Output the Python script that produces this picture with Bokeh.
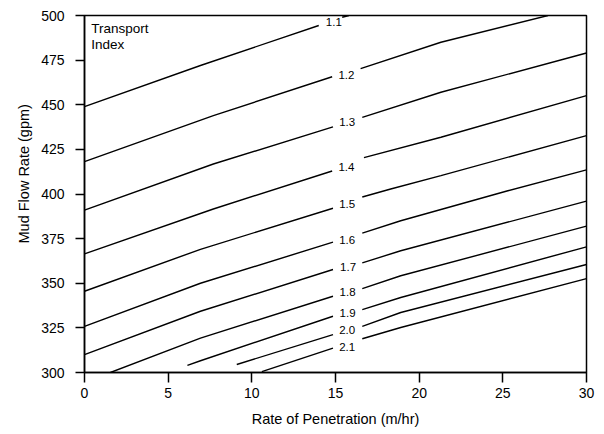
import math
from bokeh.plotting import figure
from bokeh.models import Range1d, Label, ColumnDataSource, FixedTicker, Title
from bokeh.core.properties import value
from bokeh.embed import file_html
from bokeh.resources import INLINE

# ---- data ----
levels = ["1.1", "1.2", "1.3", "1.4", "1.5", "1.6", "1.7", "1.8", "1.9", "2.0", "2.1"]

# segment of each contour left of its label (rate of penetration, m/hr)
left_x = [
    [0, 6.93, 14.0],
    [0, 7.7, 14.8],
    [0, 7.7, 14.85],
    [0, 7.7, 14.8],
    [0, 6.93, 14.85],
    [0, 6.93, 14.85],
    [0, 6.93, 14.85],
    [1.55, 6.93, 14.85],
    [6.15, 6.93, 14.85],
    [9.1, 14.85],
    [10.6, 14.85],
]
# mud flow rate (gpm)
left_y = [
    [449, 472, 494.4],
    [418.1, 443.9, 465.7],
    [391, 416.8, 437.6],
    [366.5, 391.6, 412.9],
    [345.5, 369, 392],
    [325.8, 350, 373],
    [310, 334.3, 357.7],
    [300, 319.3, 342.7],
    [304, 306.6, 331.5],
    [304.5, 321.2],
    [300.5, 313.7],
]
# segment of each contour right of its label
right_x = [
    [15.4, 15.8],
    [16.5, 21.3, 27.7],
    [16.6, 21.3, 30],
    [16.7, 21.3, 30],
    [16.6, 18.3, 21.3, 30],
    [16.6, 18.9, 25.3, 30],
    [16.6, 18.9, 30],
    [16.6, 18.9, 30],
    [16.6, 18.9, 30],
    [16.6, 18.9, 30],
    [16.6, 18.9, 30],
]
right_y = [
    [499, 500],
    [470.2, 485, 500],
    [442.9, 457, 479],
    [420.4, 431.8, 455.1],
    [398.3, 402.8, 410.3, 432.7],
    [378.1, 385, 401.8, 413.5],
    [361.4, 368.2, 396],
    [347, 354.2, 382],
    [335.2, 342, 370.4],
    [325.8, 333.6, 360.5],
    [318.9, 325.2, 352.6],
]
# contour label positions
label_x = [14.9, 15.65, 15.7, 15.65, 15.7, 15.7, 15.75, 15.72, 15.72, 15.7, 15.7]
label_y = [496.1, 466.9, 440.6, 415.3, 394.2, 374.2, 359.1, 345, 333.1, 323.6, 314.3]

x_ticks = [0, 5, 10, 15, 20, 25, 30]
y_ticks = [300, 325, 350, 375, 400, 425, 450, 475, 500]

FONT = "Liberation Sans"

p = figure(width=604, height=434, output_backend="svg", toolbar_location=None,
           x_range=Range1d(0, 30), y_range=Range1d(300, 500),
           min_border_left=84, min_border_right=18, min_border_top=15, min_border_bottom=62)

p.background_fill_color = "white"
p.border_fill_color = "white"
p.outline_line_color = "black"
p.outline_line_width = 1.5
p.xgrid.visible = False
p.ygrid.visible = False

segs_x = left_x + right_x
segs_y = left_y + right_y
p.multi_line(xs=segs_x, ys=segs_y, line_color="black", line_width=1.4)

src = ColumnDataSource(dict(x=label_x, y=label_y, t=levels))
p.text(x="x", y="y", text="t", source=src, text_align="center", text_baseline="middle",
       text_font=value(FONT), text_font_size="11.5px", text_color="black")

p.add_layout(Label(x=0.4, y=497.0, text="Transport\nIndex", text_font=FONT,
                   text_font_size="13.5px", text_baseline="top", text_align="left",
                   text_color="black", text_line_height=1.1))

for ax in (p.xaxis[0], p.yaxis[0]):
    ax.axis_line_color = "black"
    ax.axis_line_width = 1.5
    ax.major_tick_line_color = "black"
    ax.major_tick_line_width = 1.5
    ax.major_tick_in = 0
    ax.minor_tick_line_color = None
    ax.major_label_text_font = FONT
    ax.major_label_text_font_size = "14px"
    ax.major_label_text_color = "black"
    ax.axis_label_text_font = FONT
    ax.axis_label_text_font_style = "normal"
    ax.axis_label_text_color = "black"

p.xaxis.ticker = FixedTicker(ticks=x_ticks)
p.yaxis.ticker = FixedTicker(ticks=y_ticks)
p.xaxis.major_tick_out = 10
p.yaxis.major_tick_out = 9
p.xaxis.major_label_standoff = 5
p.yaxis.major_label_standoff = 11
p.xaxis.axis_label = "Rate of Penetration (m/hr)"
p.xaxis.axis_label_text_font_size = "14.5px"
p.xaxis.axis_label_standoff = 10

ytitle = Title(text="Mud Flow Rate (gpm)", align="left", offset=129,
               text_font=FONT, text_font_size="14.5px", text_font_style="normal",
               text_color="black", standoff=13)
p.add_layout(ytitle, "left")

open("out.html", "w").write(file_html(p, INLINE))
